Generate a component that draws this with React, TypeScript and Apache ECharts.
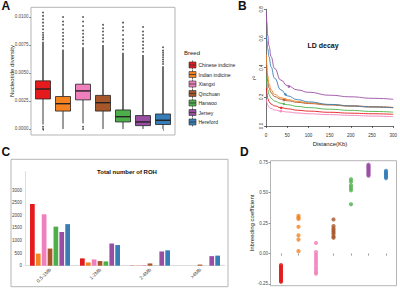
import React, { useEffect, useRef } from "react";
import * as echarts from "echarts";

const breeds = ["Chinese indicine", "Indian indicine", "Xiangxi", "Qinchuan", "Hanwoo", "Jersey", "Hereford"];
const breedColors = ["#E41A1C", "#F58220", "#F07FBD", "#A65628", "#4DAF4A", "#984EA3", "#377EB8"];

// Panel A: nucleotide diversity [lowWhisker, Q1, median, Q3, highWhisker]
const diversityBoxes = [
  [0.0004, 0.00268, 0.00357, 0.0043, 0.0078],
  [0.0000, 0.0016, 0.00226, 0.0029, 0.0071],
  [0.0005, 0.0026, 0.0034, 0.0040, 0.0073],
  [0.0000, 0.0016, 0.00235, 0.0030, 0.0075],
  [0.0000, 0.00063, 0.0011, 0.0017, 0.0068],
  [0.0000, 0.0003, 0.00063, 0.0012, 0.0066],
  [0.0000, 0.0004, 0.00078, 0.00134, 0.0056],
];
const diversityOutliers = [
  [0.0000, 0.0002, 0.0080, 0.0082, 0.0084, 0.0086, 0.0089, 0.0092, 0.0095, 0.0098, 0.0101, 0.0104],
  [0.0074, 0.0077, 0.0080, 0.0083, 0.0086, 0.0089, 0.0093, 0.0096, 0.0100],
  [0.0000, 0.0002, 0.0076, 0.0079, 0.0082, 0.0085, 0.0088, 0.0092, 0.0096, 0.0100],
  [0.0078, 0.0081, 0.0084, 0.0087, 0.0090, 0.0093],
  [0.0071, 0.0074, 0.0077, 0.0080, 0.0084, 0.0088, 0.0091, 0.0095],
  [0.0069, 0.0072, 0.0075, 0.0078, 0.0081, 0.0084, 0.0087, 0.0091],
  [0.0058, 0.0060, 0.0062, 0.0064, 0.0066, 0.0068, 0.0070, 0.0073],
];
const diversityTicks = [0, 0.0025, 0.005, 0.0075, 0.01];

// Panel B: LD decay
const ldDistance = [1, 2, 4, 7, 12, 20, 35, 50, 75, 100, 150, 200, 250, 300];
const ldChineseIndicine = [0.26, 0.225, 0.19, 0.167, 0.15, 0.138, 0.126, 0.118, 0.108, 0.102, 0.094, 0.088, 0.084, 0.08];
const ldIndianIndicine = [0.49, 0.42, 0.345, 0.29, 0.248, 0.217, 0.194, 0.181, 0.168, 0.158, 0.147, 0.139, 0.133, 0.128];
const ldXiangxi = [0.18, 0.162, 0.143, 0.13, 0.119, 0.11, 0.102, 0.096, 0.089, 0.084, 0.078, 0.073, 0.068, 0.064];
const ldQinchuan = [0.42, 0.365, 0.305, 0.262, 0.228, 0.202, 0.184, 0.173, 0.162, 0.154, 0.144, 0.136, 0.13, 0.125];
const ldHanwoo = [0.34, 0.295, 0.25, 0.215, 0.19, 0.171, 0.156, 0.146, 0.134, 0.126, 0.115, 0.107, 0.1, 0.095];
const ldJersey = [0.78, 0.71, 0.62, 0.55, 0.475, 0.395, 0.315, 0.277, 0.247, 0.231, 0.211, 0.2, 0.19, 0.183];
const ldHereford = [0.62, 0.585, 0.53, 0.475, 0.405, 0.328, 0.248, 0.207, 0.18, 0.165, 0.148, 0.138, 0.131, 0.126];
const ldCurves = [ldChineseIndicine, ldIndianIndicine, ldXiangxi, ldQinchuan, ldHanwoo, ldJersey, ldHereford];
const ldHalfDecay = [[36, 0.124], [45, 0.184], [35, 0.102], [42, 0.178], [42, 0.151], [54, 0.27], [46, 0.217]];

// Panel C: ROH counts
const rohClasses = ["0.5-1Mb", "1-2Mb", "2-4Mb", ">4Mb"];
const rohChineseIndicine = [2450, 290, 8, 0];
const rohIndianIndicine = [480, 130, 10, 0];
const rohXiangxi = [2040, 250, 25, 0];
const rohQinchuan = [680, 185, 90, 45];
const rohHanwoo = [1550, 170, 8, 0];
const rohJersey = [1340, 880, 565, 380];
const rohHereford = [1650, 820, 610, 400];
const rohCounts = [rohChineseIndicine, rohIndianIndicine, rohXiangxi, rohQinchuan, rohHanwoo, rohJersey, rohHereford];
const rohTicks = [0, 500, 1000, 1500, 2000, 2500, 3000];

// Panel D: inbreeding coefficient
const fChineseIndicine = [-0.095, -0.105, -0.115, -0.125, -0.135, -0.145, -0.155, -0.165, -0.175, -0.185, -0.195, -0.205, -0.215, -0.225, -0.232];
const fIndianIndicine = [0.31, 0.295, 0.285, 0.22, 0.15, 0.115, 0.02];
const fXiangxi = [0.087, 0.012, -0.01, -0.03, -0.05, -0.07, -0.09, -0.11, -0.13, -0.15, -0.165];
const fQinchuan = [0.28, 0.225, 0.205, 0.19, 0.175, 0.16, 0.14, 0.13];
const fHanwoo = [0.61, 0.59, 0.56, 0.54, 0.52, 0.405];
const fJersey = [0.73, 0.72, 0.71, 0.7, 0.69, 0.68, 0.67, 0.66, 0.65, 0.64];
const fHereford = [0.68, 0.67, 0.66, 0.65, 0.64, 0.63, 0.62];
const inbreeding = [fChineseIndicine, fIndianIndicine, fXiangxi, fQinchuan, fHanwoo, fJersey, fHereford];
const inbreedingTicks = [-0.25, 0, 0.25, 0.5, 0.75];

const FONT = "Liberation Sans, Arial, sans-serif";

function txt(text: string, x: number, y: number, size: number, opts: any = {}) {
  return {
    type: "text",
    x,
    y,
    rotation: opts.rotation || 0,
    silent: true,
    style: {
      text,
      fontSize: size,
      fontFamily: FONT,
      fontWeight: opts.bold ? "bold" : "normal",
      fill: opts.color || "#111",
      align: opts.align || "left",
      textAlign: opts.align || "left",
      verticalAlign: "middle",
      textVerticalAlign: "middle",
    },
  };
}

function border(x: number, y: number, w: number, h: number) {
  return {
    type: "rect",
    silent: true,
    shape: { x, y, width: w, height: h },
    style: { fill: "none", stroke: "#b5b5b5", lineWidth: 1 },
  };
}

export default function App() {
  const ref = useRef<HTMLDivElement>(null);
  useEffect(() => {
    if (!ref.current) return;
    const chart = echarts.init(ref.current, undefined, { renderer: "svg" });

    const legendItems: any[] = [];
    breeds.forEach((b, i) => {
      const cy = 65 + i * 9.5;
      legendItems.push({
        type: "line", silent: true,
        shape: { x1: 192.5, y1: cy - 4.5, x2: 192.5, y2: cy + 4.5 },
        style: { stroke: "#333", lineWidth: 0.7 },
      });
      legendItems.push({
        type: "rect", silent: true,
        shape: { x: 189, y: cy - 3, width: 7, height: 6 },
        style: { fill: breedColors[i], stroke: "#333", lineWidth: 0.6 },
      });
      legendItems.push({
        type: "line", silent: true,
        shape: { x1: 189, y1: cy, x2: 196, y2: cy },
        style: { stroke: "#333", lineWidth: 0.8 },
      });
      legendItems.push(txt(b, 198.5, cy, 5, { color: "#222" }));
    });

    const series: any[] = [];
    series.push({
      type: "custom",
      xAxisIndex: 0,
      yAxisIndex: 0,
      data: diversityBoxes.map((b, i) => [i, ...b]),
      encode: { x: 0, y: [1, 2, 3, 4, 5] },
      renderItem: (params: any, api: any) => {
        const x = api.value(0);
        const pMin = api.coord([x, api.value(1)]);
        const pQ1 = api.coord([x, api.value(2)]);
        const pMed = api.coord([x, api.value(3)]);
        const pQ3 = api.coord([x, api.value(4)]);
        const pMax = api.coord([x, api.value(5)]);
        const half = (api.size([1, 0])[0] * 0.75) / 2;
        const c = breedColors[params.dataIndex];
        return {
          type: "group",
          children: [
            { type: "line", shape: { x1: pMin[0], y1: pMin[1], x2: pQ1[0], y2: pQ1[1] }, style: { stroke: "#222", lineWidth: 0.9 } },
            { type: "line", shape: { x1: pQ3[0], y1: pQ3[1], x2: pMax[0], y2: pMax[1] }, style: { stroke: "#222", lineWidth: 1.3 } },
            { type: "rect", shape: { x: pQ3[0] - half, y: pQ3[1], width: half * 2, height: pQ1[1] - pQ3[1] }, style: { fill: c, stroke: "#222", lineWidth: 0.8 } },
            { type: "line", shape: { x1: pMed[0] - half, y1: pMed[1], x2: pMed[0] + half, y2: pMed[1] }, style: { stroke: "#222", lineWidth: 1.4 } },
          ],
        };
      },
      z: 3,
    });
    series.push({
      type: "scatter",
      xAxisIndex: 0,
      yAxisIndex: 0,
      symbolSize: 1.8,
      itemStyle: { color: "#222" },
      data: diversityOutliers.flatMap((arr, i) => arr.map((v) => [i, v])),
      z: 2,
    });
    const ldOrder = [2, 0, 4, 3, 1, 6, 5];
    ldOrder.forEach((i) => {
      series.push({
        type: "line",
        xAxisIndex: 1,
        yAxisIndex: 1,
        smooth: 0.5,
        smoothMonotone: "x",
        showSymbol: false,
        symbol: "none",
        lineStyle: { color: breedColors[i], width: 0.9 },
        data: ldDistance.map((d, k) => [d, ldCurves[i][k]]),
      });
    });
    series.push({
      type: "scatter",
      xAxisIndex: 1,
      yAxisIndex: 1,
      symbolSize: 2.6,
      data: ldHalfDecay.map((p, i) => ({ value: p, itemStyle: { color: breedColors[i] } })),
      z: 5,
    });
    breeds.forEach((b, i) => {
      series.push({
        type: "bar",
        name: b,
        xAxisIndex: 2,
        yAxisIndex: 2,
        barWidth: 4.7,
        barGap: "25%",
        itemStyle: { color: breedColors[i] },
        data: rohCounts[i],
      });
    });
    breeds.forEach((b, i) => {
      series.push({
        type: "scatter",
        xAxisIndex: 3,
        yAxisIndex: 3,
        symbolSize: 4.2,
        itemStyle: { color: breedColors[i] },
        data: inbreeding[i].map((v) => [i + 1, v]),
      });
    });

    const lbl = { fontSize: 4.5, fontFamily: FONT, color: "#4d4d4d" };

    chart.setOption({
      animation: false,
      backgroundColor: "#fff",
      grid: [
        { left: 33, top: 7.3, width: 140, height: 127.7 },
        { left: 266, top: 9.3, width: 129, height: 116.7 },
        { left: 25, top: 171.7, width: 200, height: 94 },
        { left: 270.5, top: 160.7, width: 126, height: 125 },
      ],
      xAxis: [
        {
          gridIndex: 0, type: "category", data: breeds, boundaryGap: true,
          axisLine: { show: false },
          axisTick: { show: true, alignWithLabel: true, length: 2, lineStyle: { color: "#555", width: 0.6 } },
          axisLabel: { show: false },
          splitLine: { show: false },
        },
        {
          gridIndex: 1, type: "value", min: 0, max: 300, interval: 50, offset: 4.7,
          axisLine: { show: true, lineStyle: { color: "#333", width: 0.7 } },
          axisTick: { show: true, length: 2, lineStyle: { color: "#333", width: 0.7 } },
          axisLabel: { ...lbl, color: "#333", margin: 2 },
          splitLine: { show: false },
        },
        {
          gridIndex: 2, type: "category", data: rohClasses,
          axisLine: { show: true, lineStyle: { color: "#d0d0d0", width: 0.7 } },
          axisTick: { show: false },
          axisLabel: { ...lbl, fontSize: 5, color: "#444", rotate: 45, margin: 3, interval: 0 },
          splitLine: { show: false },
        },
        {
          gridIndex: 3, type: "value", min: 0.4, max: 7.6,
          axisLine: { show: false },
          axisTick: { show: true, customValues: [1, 2, 3, 4, 5, 6, 7], length: 2, lineStyle: { color: "#555", width: 0.6 } },
          axisLabel: { show: false },
          splitLine: { show: false },
        },
      ],
      yAxis: [
        {
          gridIndex: 0, type: "value", min: -0.000536, max: 0.010866, offset: 2,
          axisLine: { show: false },
          axisTick: { show: true, customValues: diversityTicks, length: 2, lineStyle: { color: "#555", width: 0.6 } },
          axisLabel: { ...lbl, customValues: diversityTicks, margin: 2.5, formatter: (v: number) => v.toFixed(4) },
          splitLine: { show: false },
        },
        {
          gridIndex: 1, type: "value", min: 0, max: 0.8, interval: 0.2,
          axisLine: { show: true, lineStyle: { color: "#333", width: 0.7 } },
          axisTick: { show: true, length: 2, lineStyle: { color: "#333", width: 0.7 } },
          axisLabel: { ...lbl, color: "#333", rotate: 90, margin: 2, formatter: (v: number) => v.toFixed(1) },
          splitLine: { show: false },
        },
        {
          gridIndex: 2, type: "value", min: 0, max: 3730,
          axisLine: { show: true, lineStyle: { color: "#d0d0d0", width: 0.7 } },
          axisTick: { show: false },
          axisLabel: { ...lbl, customValues: rohTicks, margin: 3, color: "#444", formatter: (v: number) => String(v) },
          splitLine: { show: false },
        },
        {
          gridIndex: 3, type: "value", min: -0.264, max: 0.763,
          axisLine: { show: false },
          axisTick: { show: true, customValues: inbreedingTicks, length: 2, lineStyle: { color: "#555", width: 0.6 } },
          axisLabel: { ...lbl, customValues: inbreedingTicks, margin: 2.5, formatter: (v: number) => v.toFixed(2) },
          splitLine: { show: false },
        },
      ],
      series,
      graphic: [
        border(31, 7.3, 144, 127.7),
        border(11, 159.3, 217, 127.4),
        border(270.5, 160.7, 126, 125),
        txt("A", 1.5, 6, 12, { bold: true }),
        txt("B", 238, 6, 12, { bold: true }),
        txt("C", 1.5, 152, 12, { bold: true }),
        txt("D", 240, 152, 12, { bold: true }),
        txt("Nucleotide diversity", 12, 71, 6, { rotation: Math.PI / 2, align: "center", color: "#222" }),
        txt("Breed", 184, 53, 6, { color: "#222" }),
        ...legendItems,
        txt("LD decay", 323, 45, 7, { bold: true, align: "center" }),
        txt("r\u00B2", 253.5, 78, 6, { rotation: Math.PI / 2, align: "center", color: "#222" }),
        txt("Distance(Kb)", 330, 144, 6, { align: "center", color: "#222" }),
        txt("Total number of ROH", 127, 172, 6, { bold: true, align: "center" }),
        txt("Inbreeding coefficient", 251.5, 223, 6, { rotation: Math.PI / 2, align: "center", color: "#222" }),
      ],
    });
    return () => chart.dispose();
  }, []);
  return <div ref={ref} style={{ position: "fixed", left: 0, top: 0, width: 400, height: 289 }} />;
}
